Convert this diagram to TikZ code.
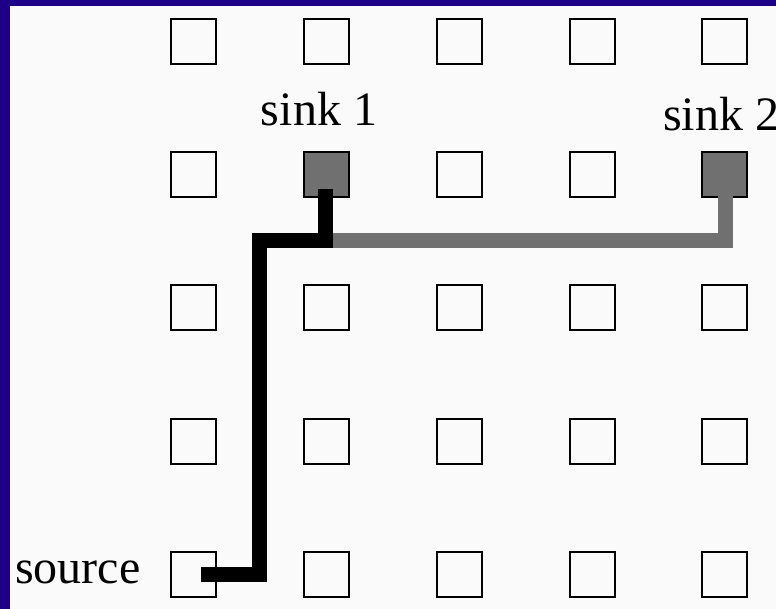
\documentclass[tikz,border=0pt]{standalone}
\usepackage{fontspec}
\setmainfont{Liberation Serif}
\definecolor{navy}{RGB}{30,0,136}
\definecolor{bgc}{RGB}{250,250,250}
\definecolor{wiregray}{RGB}{112,112,112}
\begin{document}
\begin{tikzpicture}[x=1pt,y=-1pt,
  cell/.style={draw=black,line width=2pt,fill=bgc,minimum size=45pt,inner sep=0pt,outer sep=0pt},
  sinkcell/.style={cell,fill=wiregray},
  lab/.style={font=\fontsize{48}{56}\selectfont,inner sep=0pt,anchor=base},
  wire/.style={line width=15pt,line cap=butt,line join=miter}]
\useasboundingbox (0,0) rectangle (776,609);
\fill[navy] (0,0) rectangle (776,609);
\fill[bgc] (10,6) rectangle (780,615);
\foreach \c/\x in {1/193,2/326,3/459,4/592,5/724}{
  \foreach \r/\y in {1/42,2/175,3/308,4/441,5/574}{
    \node[cell] (s\r\c) at (\x,\y) {};
  }
}
\node[sinkcell] (s22) at (326,175) {};
\node[sinkcell] (s25) at (724,175) {};
\node[lab] (l1) at (319,126) {sink 1};
\node[lab] (l2) at (721,131) {sink 2};
\node[lab,anchor=base west] (lsrc) at (15,583) {source};
\coordinate (a0) at (201,574);
\coordinate (a1) at (259,574);
\coordinate (a2) at (259,241);
\coordinate (a3) at (325.5,241);
\coordinate (a4) at (325.5,189);
\coordinate (g0) at (331,241);
\coordinate (g1) at (725.5,241);
\coordinate (g2) at (725.5,190);
\draw[wire,wiregray] (g0) -- (g1) -- (g2);
\draw[wire,black] (a0) -- (a1) -- (a2) -- (a3) -- (a4);
\end{tikzpicture}
\end{document}
